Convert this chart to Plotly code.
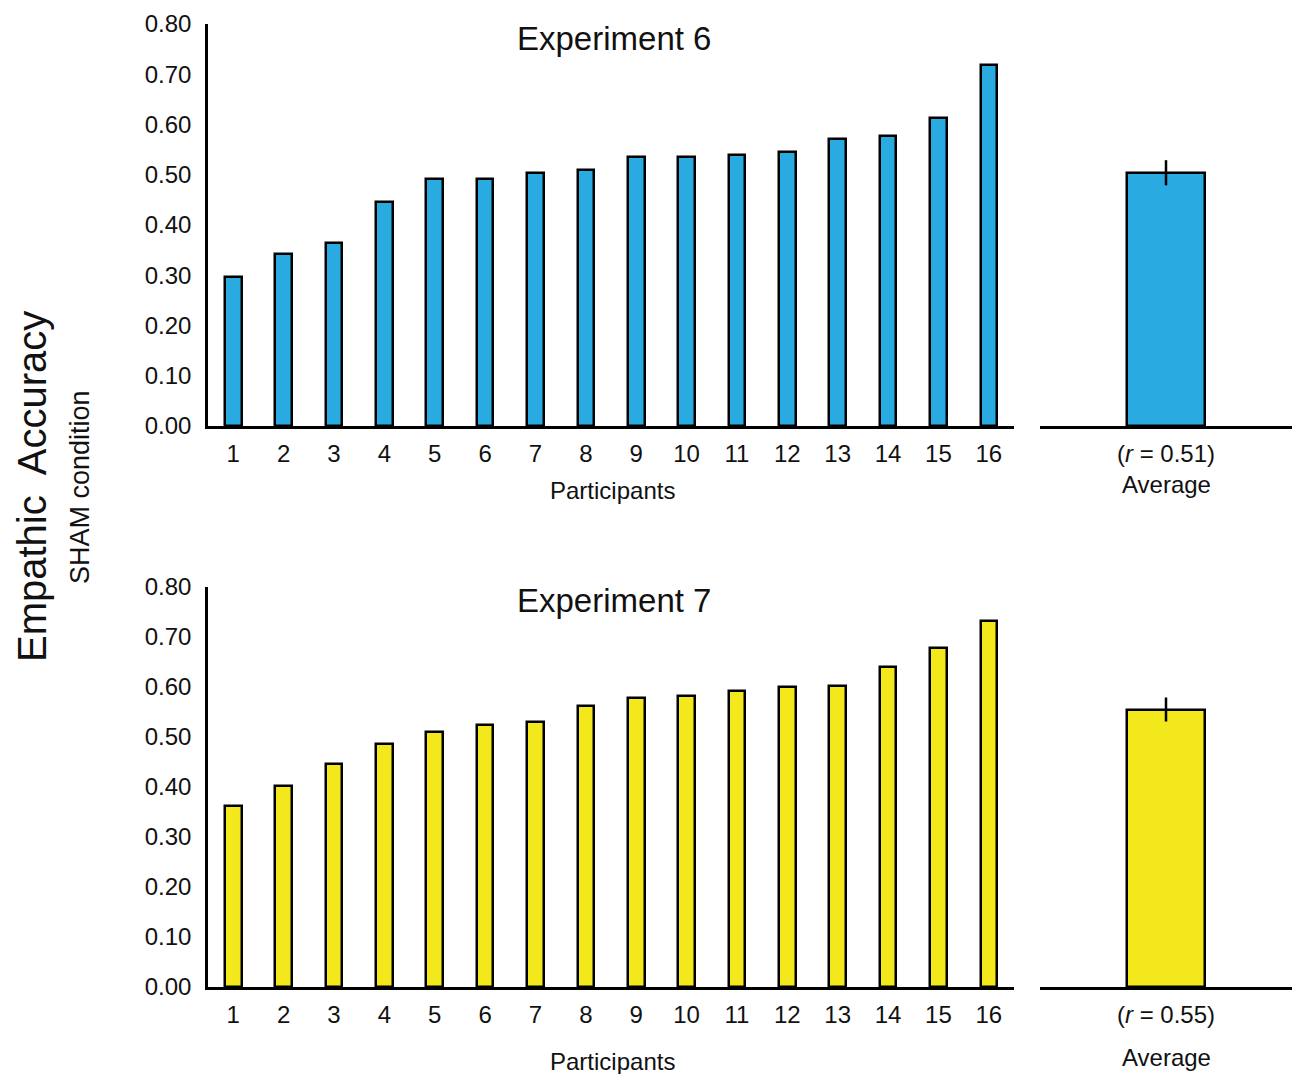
import plotly.graph_objects as go

# Per-participant empathic accuracy (SHAM condition), sorted ascending
participants = list(range(1, 17))
exp6_values = [0.297, 0.342, 0.364, 0.446, 0.491, 0.491, 0.503, 0.509,
               0.536, 0.536, 0.539, 0.545, 0.571, 0.578, 0.612, 0.718]
exp7_values = [0.363, 0.403, 0.447, 0.487, 0.510, 0.525, 0.531, 0.563,
               0.578, 0.583, 0.593, 0.600, 0.602, 0.641, 0.679, 0.733]

# Group averages with their error bars
exp6_avg = 0.504
exp6_err = 0.025
exp7_avg = 0.555
exp7_err = 0.024
exp6_r_label = "(<i>r</i> = 0.51)"
exp7_r_label = "(<i>r</i> = 0.55)"

y_ticks = [0.0, 0.1, 0.2, 0.3, 0.4, 0.5, 0.6, 0.7, 0.8]

BLUE = "#29ABE2"
YELLOW = "#F2E81C"
FONT = "Liberation Sans, Arial, sans-serif"
TEXT = "#111111"

W, H = 1293, 1074


def px_x(p):
    return p / W


def px_y(p):
    return 1 - p / H


fig = go.Figure()

# Individual participants
fig.add_trace(go.Bar(x=participants, y=exp6_values, width=0.33,
                     marker=dict(color=BLUE, line=dict(color="black", width=2.5)),
                     xaxis="x", yaxis="y", showlegend=False))
fig.add_trace(go.Bar(x=participants, y=exp7_values, width=0.33,
                     marker=dict(color=YELLOW, line=dict(color="black", width=2.5)),
                     xaxis="x3", yaxis="y3", showlegend=False))

# Averages
fig.add_trace(go.Bar(x=[0.5], y=[exp6_avg], width=0.313,
                     marker=dict(color=BLUE, line=dict(color="black", width=2.5)),
                     error_y=dict(type="data", array=[exp6_err], color="black",
                                  thickness=2.5, width=0),
                     xaxis="x2", yaxis="y2", showlegend=False))
fig.add_trace(go.Bar(x=[0.5], y=[exp7_avg], width=0.313,
                     marker=dict(color=YELLOW, line=dict(color="black", width=2.5)),
                     error_y=dict(type="data", array=[exp7_err], color="black",
                                  thickness=2.5, width=0),
                     xaxis="x4", yaxis="y4", showlegend=False))

top_dom = [px_y(426), px_y(24)]
bot_dom = [px_y(987), px_y(587)]
main_x = [px_x(208), px_x(1014)]
avg_x = [px_x(1040), px_x(1292)]

tickfont = dict(family=FONT, size=24, color=TEXT)

main_xaxis = dict(range=[0.5, 16.5], tickvals=participants, ticks="",
                  showline=True, linecolor="black", linewidth=2.5,
                  showgrid=False, zeroline=False, tickfont=tickfont,
                  ticklabelstandoff=4, automargin=False)
main_yaxis = dict(range=[0, 0.8], tickvals=y_ticks, tickformat=".2f", ticks="",
                  showline=True, linecolor="black", linewidth=2.5,
                  showgrid=False, zeroline=False, tickfont=tickfont,
                  ticklabelstandoff=9, automargin=False)
avg_xaxis = dict(range=[0, 1], tickvals=[0.5], ticks="",
                 showline=True, linecolor="black", linewidth=2.5,
                 showgrid=False, zeroline=False, tickfont=tickfont,
                 ticklabelstandoff=4, automargin=False)
avg_yaxis = dict(range=[0, 0.8], visible=False, showgrid=False, zeroline=False,
                 automargin=False)

fig.update_layout(
    width=W, height=H,
    margin=dict(l=0, r=0, t=0, b=0, pad=0),
    paper_bgcolor="white", plot_bgcolor="white",
    font=dict(family=FONT, color=TEXT),
    bargap=0,
    xaxis=dict(main_xaxis, domain=main_x, anchor="y"),
    yaxis=dict(main_yaxis, domain=top_dom, anchor="x"),
    xaxis2=dict(avg_xaxis, domain=avg_x, anchor="y2", ticktext=[exp6_r_label]),
    yaxis2=dict(avg_yaxis, domain=top_dom, anchor="x2"),
    xaxis3=dict(main_xaxis, domain=main_x, anchor="y3"),
    yaxis3=dict(main_yaxis, domain=bot_dom, anchor="x3"),
    xaxis4=dict(avg_xaxis, domain=avg_x, anchor="y4", ticktext=[exp7_r_label]),
    yaxis4=dict(avg_yaxis, domain=bot_dom, anchor="x4"),
)

annotations = [
    dict(text="Experiment 6", x=px_x(614), y=px_y(38), size=33),
    dict(text="Experiment 7", x=px_x(614), y=px_y(600), size=33),
    dict(text="Participants", x=px_x(612), y=px_y(490), size=24),
    dict(text="Participants", x=px_x(612), y=px_y(1061), size=24),
    dict(text="Average", x=px_x(1166), y=px_y(485), size=24),
    dict(text="Average", x=px_x(1166), y=px_y(1057), size=24),
]
for a in annotations:
    fig.add_annotation(text=a["text"], x=a["x"], y=a["y"], xref="paper", yref="paper",
                       xanchor="center", yanchor="middle", showarrow=False,
                       font=dict(family=FONT, size=a["size"], color=TEXT))

fig.add_annotation(text="Empathic&nbsp; Accuracy", x=px_x(32), y=px_y(487),
                   xref="paper", yref="paper", xanchor="center", yanchor="middle",
                   textangle=-90, showarrow=False,
                   font=dict(family=FONT, size=40, color=TEXT))
fig.add_annotation(text="SHAM condition", x=px_x(80), y=px_y(487),
                   xref="paper", yref="paper", xanchor="center", yanchor="middle",
                   textangle=-90, showarrow=False,
                   font=dict(family=FONT, size=27, color=TEXT))

fig.write_html("out.html")
